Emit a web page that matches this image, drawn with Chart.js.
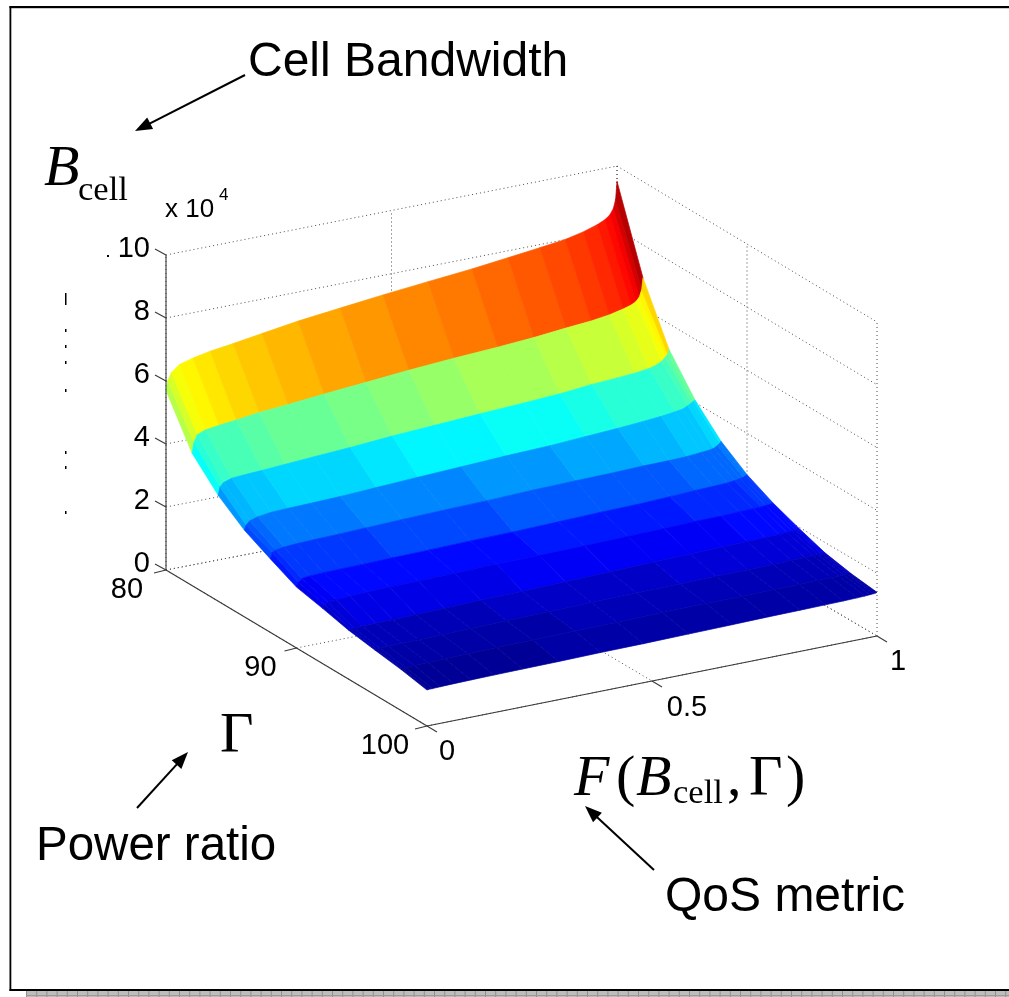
<!DOCTYPE html>
<html>
<head>
<meta charset="utf-8">
<style>
html,body{margin:0;padding:0;background:#fff;overflow:hidden}
#wrap{position:absolute;left:0;top:0;width:1009px;height:997px}
</style>
<script src="https://cdn.jsdelivr.net/npm/chart.js@4"></script>
</head>
<body>
<div id="wrap"><canvas id="c" width="1009" height="997"></canvas></div>
<script>
// Surface data: rows follow Gamma, columns follow F, values are Bcell in units of 1e4
const gammaValues = [80,82,84,86,88,90,92,94,96,98,100];
const fValues = [0,.004,.012,.03,.06,.098,.149,.213,.293,.386,.481,.581,.678,.758,.829,.885,.925,.956,.973,.984,.992,.997,1];
const bcellGrid = [
 [5.70,6.00,6.24,6.44,6.56,6.67,6.77,6.91,7.08,7.23,7.38,7.52,7.65,7.78,7.90,8.00,8.13,8.27,8.38,8.50,8.68,8.96,9.52],
 [4.20,4.53,4.76,4.86,4.92,4.98,5.08,5.15,5.26,5.37,5.49,5.59,5.67,5.75,5.85,5.92,6.00,6.10,6.17,6.25,6.38,6.59,6.96],
 [3.36,3.62,3.73,3.82,3.85,3.88,3.93,3.99,4.06,4.16,4.24,4.32,4.39,4.46,4.56,4.61,4.65,4.71,4.78,4.86,4.97,5.05,5.19],
 [2.75,2.90,3.01,3.09,3.15,3.17,3.19,3.22,3.28,3.35,3.41,3.48,3.53,3.60,3.66,3.72,3.77,3.83,3.87,3.94,4.01,4.05,4.08],
 [2.33,2.52,2.58,2.62,2.65,2.67,2.69,2.72,2.76,2.80,2.83,2.88,2.91,2.93,2.96,2.97,2.99,3.03,3.05,3.08,3.15,3.20,3.26],
 [1.93,2.07,2.17,2.20,2.22,2.23,2.24,2.26,2.28,2.31,2.33,2.37,2.41,2.43,2.47,2.51,2.53,2.55,2.58,2.61,2.63,2.66,2.69],
 [1.75,1.85,1.91,1.95,1.97,1.99,2.01,2.02,2.04,2.07,2.08,2.10,2.13,2.15,2.18,2.19,2.21,2.22,2.23,2.24,2.25,2.26,2.28],
 [1.55,1.57,1.58,1.59,1.60,1.61,1.63,1.65,1.68,1.70,1.73,1.77,1.80,1.83,1.85,1.87,1.88,1.89,1.91,1.92,1.93,1.94,1.96],
 [1.42,1.43,1.44,1.45,1.46,1.47,1.48,1.50,1.52,1.54,1.56,1.58,1.59,1.61,1.62,1.63,1.65,1.65,1.66,1.66,1.66,1.67,1.67],
 [1.30,1.31,1.32,1.34,1.35,1.36,1.37,1.39,1.40,1.42,1.43,1.45,1.46,1.47,1.48,1.48,1.49,1.49,1.49,1.50,1.50,1.50,1.50],
 [1.14,1.15,1.15,1.16,1.17,1.18,1.19,1.20,1.21,1.23,1.24,1.26,1.28,1.30,1.31,1.32,1.33,1.34,1.35,1.36,1.37,1.38,1.39]
];
const bcellTicks = [0,2,4,6,8,10];
const gammaTicks = [80,90,100];
const fTicks = [0,0.5,1];
const F_MIN=0,F_MAX=1,G_MIN=80,G_MAX=100,B_MIN=0,B_MAX=10;

// View box of the 3D axes: corners of the floor and of the ceiling on the page
const floorBox = {f0g0:[166,570],f1g0:[617,483],f0g1:[427,726],f1g1:[877,636]};
const ceilBox  = {f0g0:[166,255],f1g0:[617,166],f0g1:[427,410],f1g1:[877,322]};
function bil(box,u,v,k){
  return (1-u)*(1-v)*box.f0g0[k]+u*(1-v)*box.f1g0[k]+(1-u)*v*box.f0g1[k]+u*v*box.f1g1[k];
}
function project(f,g,b){
  const u=(f-F_MIN)/(F_MAX-F_MIN), v=(g-G_MIN)/(G_MAX-G_MIN), w=(b-B_MIN)/(B_MAX-B_MIN);
  return {x:bil(floorBox,u,v,0)*(1-w)+bil(ceilBox,u,v,0)*w,
          y:bil(floorBox,u,v,1)*(1-w)+bil(ceilBox,u,v,1)*w};
}
function jet(v,lo,hi){
  const n=64;
  let i=Math.floor((v-lo)/(hi-lo)*n); i=Math.max(0,Math.min(n-1,i));
  const x=(i+0.5)/n, cl=a=>Math.round(255*Math.max(0,Math.min(1,a)));
  return `rgb(${cl(1.5-Math.abs(4*x-3))},${cl(1.5-Math.abs(4*x-2))},${cl(1.5-Math.abs(4*x-1))})`;
}
const allB=bcellGrid.flat(), bLo=Math.min(...allB), bHi=Math.max(...allB);

const datasets=[];
function seg(a,b,style,order){
  datasets.push(Object.assign({data:[a,b],showLine:true,pointRadius:0,fill:false,order,clip:false},style));
}
const dotted={borderColor:'#4a4a4a',borderWidth:1,borderDash:[1,3]};
const solid={borderColor:'#3a3a3a',borderWidth:1.1};

// Walls and floor grid
bcellTicks.forEach(b=>{
  seg(project(0,80,b),project(1,80,b),dotted,100000);
  seg(project(1,80,b),project(1,100,b),dotted,100000);
});
fTicks.forEach(f=>{
  seg(project(f,80,0),project(f,80,10),dotted,100000);
  seg(project(f,80,0),project(f,100,0),dotted,100000);
});
gammaTicks.forEach(g=>{
  seg(project(1,g,0),project(1,g,10),dotted,100000);
  seg(project(0,g,0),project(1,g,0),dotted,100000);
});

// Surface facets, back row first; colour from the facet's upper edge
let seq=0;
for(let r=0;r<gammaValues.length-1;r++){
  for(let c=0;c<fValues.length-1;c++){
    const col=jet(bcellGrid[r][c]*0.75+bcellGrid[r][c+1]*0.25,bLo,bHi);
    const p=[project(fValues[c],gammaValues[r],bcellGrid[r][c]),
             project(fValues[c+1],gammaValues[r],bcellGrid[r][c+1]),
             project(fValues[c+1],gammaValues[r+1],bcellGrid[r+1][c+1]),
             project(fValues[c],gammaValues[r+1],bcellGrid[r+1][c])];
    p.push(p[0]);
    datasets.push({data:p,showLine:true,fill:'shape',backgroundColor:col,borderColor:col,borderWidth:0.7,
      pointRadius:0,order:50000-seq,clip:false});
    seq++;
  }
}

// Axes
seg(project(0,80,0),project(0,80,10),solid,1);
seg(project(0,80,0),project(0,100,0),solid,1);
seg(project(0,100,0),project(1,100,0),solid,1);
const off=(p,dx,dy)=>({x:p.x+dx,y:p.y+dy});
bcellTicks.forEach(b=>{const p=project(0,80,b);seg(p,off(p,-11,-6),solid,1);});
gammaTicks.forEach(g=>{const p=project(0,g,0);seg(p,off(p,-12,3),solid,1);});
fTicks.forEach(f=>{const p=project(f,100,0);seg(p,off(p,10,6),solid,1);});

const SANS='"Liberation Sans",Arial,sans-serif', SERIF='"Liberation Serif","Times New Roman",serif';
const notes=[
 {t:'Cell Bandwidth',x:248,y:76,font:`48px ${SANS}`},
 {t:'Power ratio',x:36,y:860,font:`47.5px ${SANS}`},
 {t:'QoS metric',x:665,y:911,font:`48px ${SANS}`},
 {t:'B',x:44,y:185,font:`italic 58px ${SERIF}`},
 {t:'cell',x:78,y:200,font:`34.5px ${SERIF}`},
 {t:'Γ',x:220,y:752,font:`58px ${SERIF}`},
 {t:'F',x:574,y:795,font:`italic 58px ${SERIF}`},
 {t:'(',x:616,y:795,font:`58px ${SERIF}`},
 {t:'B',x:636,y:795,font:`italic 58px ${SERIF}`},
 {t:'cell',x:673,y:803,font:`34.5px ${SERIF}`},
 {t:',',x:727,y:795,font:`58px ${SERIF}`},
 {t:'Γ',x:749,y:795,font:`58px ${SERIF}`},
 {t:')',x:786,y:795,font:`58px ${SERIF}`},
 {t:'x 10',x:165,y:217,font:`26px ${SANS}`},
 {t:'4',x:219,y:200,font:`17px ${SANS}`}
];
const arrows=[[245,75,135,131],[137,808,188,752],[654,870,585,806]];
const specks=[[107,255,2,2],[65,293,1.5,12],[65,329,1.5,3],[65,345,1.5,3],[65,361,1.5,3],[65,389,1.5,3],[65,451,1.5,3],[65,466,1.5,3],[65,511,1.5,3]];

const overlay={
  id:'overlay',
  afterDraw(chart){
    const ctx=chart.ctx;
    ctx.save();
    // Page frame and strip under it
    ctx.fillStyle='#bdbdbd'; ctx.fillRect(26,991,983,6);
    ctx.fillStyle='#8f8f8f'; for(let x=26;x<1009;x+=10.2) ctx.fillRect(x,991,1,6);
    ctx.fillStyle='#9a9a9a'; ctx.fillRect(26,995,983,1);
    ctx.fillStyle='#000';
    ctx.fillRect(9.5,6,1000,2.2);
    ctx.fillRect(9.5,6,1.8,985);
    ctx.fillRect(9.5,989,1000,2);
    specks.forEach(s=>ctx.fillRect(s[0],s[1],s[2],s[3]));
    // Arrows
    arrows.forEach(a=>{
      const ang=Math.atan2(a[3]-a[1],a[2]-a[0]), L=17, W=6.5;
      ctx.strokeStyle='#000'; ctx.lineWidth=2;
      ctx.beginPath(); ctx.moveTo(a[0],a[1]); ctx.lineTo(a[2]-L*Math.cos(ang)*.8,a[3]-L*Math.sin(ang)*.8); ctx.stroke();
      const bx=a[2]-L*Math.cos(ang), by=a[3]-L*Math.sin(ang);
      ctx.beginPath(); ctx.moveTo(a[2],a[3]);
      ctx.lineTo(bx-W*Math.sin(ang),by+W*Math.cos(ang));
      ctx.lineTo(bx+W*Math.sin(ang),by-W*Math.cos(ang));
      ctx.closePath(); ctx.fill();
    });
    // Tick labels, placed from the projected tick positions
    ctx.textBaseline='middle'; ctx.font=`29px ${SANS}`; ctx.fillStyle='#000';
    ctx.textAlign='right';
    bcellTicks.forEach(b=>{const p=project(0,80,b);ctx.fillText(String(b),p.x-16,p.y-6);});
    ctx.textAlign='center';
    gammaTicks.forEach(g=>{const p=project(0,g,0);ctx.fillText(String(g),p.x+(g===100?-42:g===90?-36:-39),p.y+20);});
    fTicks.forEach(f=>{const p=project(f,100,0);ctx.fillText(String(f),p.x+(f===0?20:f===.5?35:21),p.y+(f===0?26:f===.5?27:26));});
    // Free text
    ctx.textAlign='left'; ctx.textBaseline='alphabetic';
    notes.forEach(n=>{ctx.font=n.font;ctx.fillText(n.t,n.x,n.y);});
    ctx.restore();
  }
};

new Chart(document.getElementById('c'),{
  type:'scatter',
  data:{datasets},
  options:{
    responsive:false,animation:false,
    layout:{padding:0},
    events:[],
    scales:{
      x:{type:'linear',min:0,max:1009,display:false},
      y:{type:'linear',min:0,max:997,reverse:true,display:false}
    },
    elements:{line:{tension:0},point:{radius:0}},
    plugins:{legend:{display:false},tooltip:{enabled:false},title:{display:false}}
  },
  plugins:[overlay]
});
</script>
</body>
</html>
